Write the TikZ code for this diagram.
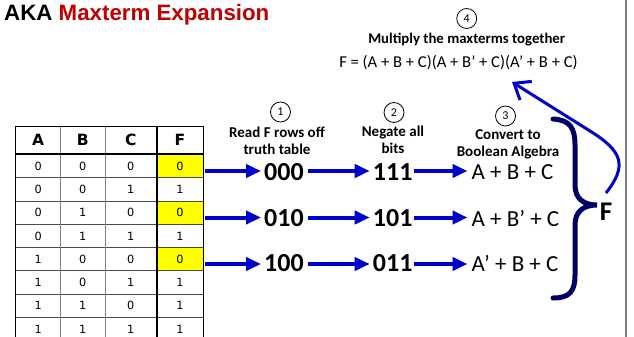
\documentclass[tikz,border=0pt]{standalone}
\usepackage{fontspec}
\setmainfont{Carlito}
\newfontfamily\titlefont{Liberation Sans}
\newfontfamily\tablefont{DejaVu Sans}
\usetikzlibrary{arrows.meta}
\definecolor{arrowblue}{RGB}{0,0,204}
\definecolor{bracenavy}{RGB}{0,0,100}
\definecolor{titlered}{RGB}{192,0,0}
\definecolor{hilite}{RGB}{255,255,0}
\begin{document}
\begin{tikzpicture}[x=1pt,y=-1pt,
  cell/.style={font=\tablefont\fontsize{11.3}{11.3}\selectfont},
  head/.style={font=\tablefont\bfseries\fontsize{15.5}{15.5}\selectfont},
  steplabel/.style={font=\bfseries\fontsize{15}{17}\selectfont,align=center},
  bits/.style={font=\bfseries\fontsize{26}{26}\selectfont,inner sep=0pt},
  expr/.style={font=\fontsize{23}{23}\selectfont,inner sep=0pt,anchor=west},
  num/.style={circle,draw,line width=0.8pt,minimum size=20pt,inner sep=0pt,font=\fontsize{12}{12}\selectfont},
  flow/.style={arrowblue,line width=4pt,-{Triangle[length=15pt,width=13pt]}}
]
\clip (0,0) rectangle (634,337);
\fill[white] (0,0) rectangle (634,337);
% right gray rule
\draw[gray,line width=2pt] (626,0) -- (626,337);
% title
\node[anchor=base west,inner sep=0pt,font=\titlefont\bfseries\fontsize{22.3}{22.3}\selectfont] (title) at (4,20.5) {AKA \textcolor{titlered}{Maxterm Expansion}};
% table
\foreach \r in {0,2,4} {
  \fill[hilite] (156.7,{154.3+23.3*\r}) rectangle (203.3,{154.3+23.3*(\r+1)});
}
\foreach \r in {1,...,8} {
  \draw[black!70,line width=0.8pt] (15.7,{154.3+23.3*\r}) -- (203.3,{154.3+23.3*\r});
}
\draw[gray,line width=0.9pt] (60.7,126) -- (60.7,345);
\draw[gray,line width=0.9pt] (105,126) -- (105,345);
\draw[black,line width=2pt] (156.7,126) -- (156.7,345);
\draw[black,line width=2pt] (15.7,154.3) -- (203.3,154.3);
\draw[black,line width=1pt] (15.7,345) -- (15.7,126) -- (203.3,126) -- (203.3,345);
\node[head] (hA) at (38.2,140) {A};
\node[head] (hB) at (82.8,140) {B};
\node[head] (hC) at (130.8,140) {C};
\node[head] (hF) at (180,140) {F};
\foreach \a/\b/\c/\f [count=\i from 0] in {0/0/0/0,0/0/1/1,0/1/0/0,0/1/1/1,1/0/0/0,1/0/1/1,1/1/0/1,1/1/1/1} {
  \node[cell] (a\i) at (38.2,{166+23.3*\i}) {\a};
  \node[cell] (b\i) at (82.8,{166+23.3*\i}) {\b};
  \node[cell] (c\i) at (130.8,{166+23.3*\i}) {\c};
  \node[cell] (f\i) at (180,{166+23.3*\i}) {\f};
}
% step headers
\node[num] (n1) at (280.5,112) {1};
\node[num] (n2) at (394,112.5) {2};
\node[num] (n3) at (505.5,116) {3};
\node[num] (n4) at (466.7,18.5) {4};
\node[steplabel] (s1) at (277,140.5) {Read F rows off\\truth table};
\node[steplabel] (s2) at (393,140) {Negate all\\bits};
\node[steplabel] (s3) at (508,144) {Convert to\\Boolean Algebra};
\node[font=\bfseries\fontsize{14.8}{14.8}\selectfont] (mult) at (466.7,40) {Multiply the maxterms together};
\node[font=\fontsize{16.6}{16.6}\selectfont] (eq) at (458.5,62.5) {F = (A + B + C)(A + B’ + C)(A’ + B + C)};
% rows
\coordinate (t0) at (205,171);
\coordinate (t1) at (205,217.5);
\coordinate (t2) at (205,264);
\node[bits] (r0) at (284,172) {000};
\node[bits] (r1) at (284,218) {010};
\node[bits] (r2) at (284,263.5) {100};
\node[bits] (g0) at (392.7,172) {111};
\node[bits] (g1) at (392.7,218) {101};
\node[bits] (g2) at (392.7,263.5) {011};
\node[expr] (e0) at (471.5,172) {A + B + C};
\node[expr] (e1) at (471.5,218) {A + B’ + C};
\node[expr] (e2) at (471.5,263.5) {A’ + B + C};
\foreach \i in {0,1,2} {
  \draw[flow] (t\i) -- ([xshift=-3pt]r\i.west |- t\i);
  \draw[flow] ([xshift=4pt]r\i.east |- t\i) -- ([xshift=-3pt]g\i.west |- t\i);
  \draw[flow] ([xshift=1pt]g\i.east |- t\i) -- ([xshift=-4pt]e\i.west |- t\i);
}
% brace
\draw[bracenavy,line width=5pt,line cap=round] (553,119) .. controls (570,120) and (575,128) .. (575,145) -- (575,185) .. controls (575,199) and (584,205) .. (597,205) .. controls (584,205) and (575,211) .. (575,225) -- (575,275) .. controls (575,291) and (570,298) .. (553,298);
\node[font=\bfseries\fontsize{27}{27}\selectfont] (bigF) at (606,212) {F};
% curved arrow
\coordinate (cstart) at (606,193);
\coordinate (cend) at (512,82);
\draw[arrowblue,line width=3pt,-{Straight Barb[length=14pt,width=22pt]}] (cstart) .. controls (628,165) and (622,151) .. (590,131) -- (cend);
\end{tikzpicture}
\end{document}
